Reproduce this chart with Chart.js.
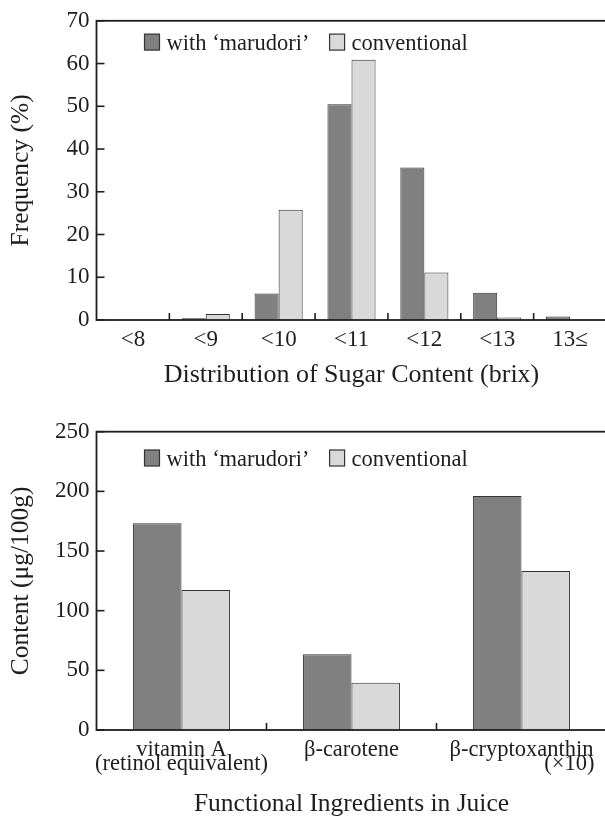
<!DOCTYPE html>
<html>
<head>
<meta charset="utf-8">
<script src="https://cdn.jsdelivr.net/npm/chart.js@4.4.0/dist/chart.umd.min.js"></script>
<style>
  html, body { margin: 0; padding: 0; background: #fff; overflow: hidden; }
  .box { position: absolute; left: 0; width: 612px; }
  #box1 { top: 0; height: 400px; }
  #box2 { top: 400px; height: 430px; }
</style>
</head>
<body>
<div class="box" id="box1"><canvas id="sugarChart" width="612" height="400"></canvas></div>
<div class="box" id="box2"><canvas id="juiceChart" width="612" height="430"></canvas></div>
<script>
// top chart: sugar content distribution (%)
const sugarLabels = ['<8', '<9', '<10', '<11', '<12', '<13', '13\u2264'];
const sugarMarudori = [0, 0.4, 6.2, 50.5, 35.7, 6.4, 0.8];
const sugarConventional = [0, 1.4, 25.8, 60.9, 11.1, 0.6, 0];
const sugarTicks = { min: 0, max: 70, step: 10 };

// bottom chart: functional ingredients (ug/100g)
const juiceLabels = [
    ['vitamin A', '(retinol equivalent)'],
    '\u03b2-carotene',
    ['\u03b2-cryptoxanthin', '                 (\u00d710)']
];
const juiceMarudori = [173.2, 63.4, 196.1];
const juiceConventional = [117.3, 39.7, 133.3];
const juiceTicks = { min: 0, max: 250, step: 50 };

const seriesNames = ['with \u2018marudori\u2019', 'conventional'];

const SERIF = "'Liberation Serif', 'Times New Roman', serif";
const INK = '#1e1e1e';
const DARK = '#808080';
const LIGHT = '#d9d9d9';

// plot frame, inward tick marks and the legend drawn inside the plot
const frameAndTicks = {
    id: 'frameAndTicks',
    afterDraw(chart, args, opts) {
        const { ctx, chartArea: a, scales: { x, y } } = chart;
        ctx.save();
        ctx.strokeStyle = INK;
        ctx.lineWidth = 1.6;
        y.ticks.forEach((t, i) => {
            const py = y.getPixelForTick(i);
            ctx.beginPath();
            ctx.moveTo(a.left, py);
            ctx.lineTo(a.left + 8, py);
            ctx.stroke();
        });
        for (let i = 1; i < x.ticks.length; i++) {
            const px = (x.getPixelForTick(i - 1) + x.getPixelForTick(i)) / 2;
            ctx.beginPath();
            ctx.moveTo(px, a.bottom);
            ctx.lineTo(px, a.bottom - 7);
            ctx.stroke();
        }
        ctx.lineWidth = 1.8;
        ctx.strokeRect(a.left, a.top, a.right - a.left, a.bottom - a.top);

        // legend
        ctx.font = '22.5px ' + SERIF;
        ctx.textBaseline = 'alphabetic';
        ctx.textAlign = 'left';
        let lx = a.left + 48;
        const ly = a.top + opts.legendTop;
        chart.data.datasets.forEach(ds => {
            ctx.fillStyle = ds.backgroundColor;
            ctx.fillRect(lx, ly, 15, 16);
            ctx.lineWidth = 1.2;
            ctx.strokeStyle = '#333';
            ctx.strokeRect(lx, ly, 15, 16);
            ctx.fillStyle = INK;
            ctx.fillText(ds.label, lx + 22, ly + 16);
            lx += 22 + ctx.measureText(ds.label).width + 20;
        });
        ctx.restore();
    }
};

function makeChart(id, labels, a, b, ticks, cfg) {
    const ctx = document.getElementById(id).getContext('2d');
    return new Chart(ctx, {
        type: 'bar',
        data: {
            labels: labels,
            datasets: [
                { label: seriesNames[0], data: a, backgroundColor: DARK, borderColor: '#333', borderWidth: 1,
                  categoryPercentage: cfg.catPct, barPercentage: 1 },
                { label: seriesNames[1], data: b, backgroundColor: LIGHT, borderColor: '#333', borderWidth: 1,
                  categoryPercentage: cfg.catPct, barPercentage: 1 }
            ]
        },
        options: {
            responsive: false,
            animation: false,
            layout: { padding: { top: cfg.top, right: 5.5, left: 0, bottom: 0 } },
            plugins: {
                legend: { display: false },
                tooltip: { enabled: false },
                frameAndTicks: { legendTop: cfg.legendTop }
            },
            scales: {
                x: {
                    grid: { display: false, drawTicks: false },
                    border: { display: false },
                    ticks: {
                        color: INK,
                        padding: cfg.xPad,
                        maxRotation: 0,
                        autoSkip: false,
                        font: { family: SERIF, size: cfg.xFont, lineHeight: cfg.xLine }
                    },
                    title: {
                        display: true,
                        text: cfg.xTitle,
                        color: INK,
                        padding: { top: 0, bottom: cfg.xTitlePad },
                        font: { family: SERIF, size: cfg.xTitleFont }
                    },
                    afterFit: s => { s.height = cfg.xHeight; }
                },
                y: {
                    min: ticks.min,
                    max: ticks.max,
                    grid: { display: false, drawTicks: false },
                    border: { display: false },
                    ticks: {
                        stepSize: ticks.step,
                        color: INK,
                        padding: 7,
                        font: { family: SERIF, size: 23 }
                    },
                    title: {
                        display: true,
                        text: cfg.yTitle,
                        color: INK,
                        padding: { top: 5.5, bottom: 0 },
                        font: { family: SERIF, size: 25.5 }
                    },
                    afterFit: s => { s.width = 96.5; }
                }
            }
        },
        plugins: [frameAndTicks]
    });
}

makeChart('sugarChart', sugarLabels, sugarMarudori, sugarConventional, sugarTicks, {
    catPct: 0.66, top: 20, legendTop: 13.3,
    xPad: 6.2, xFont: 23, xLine: 1.2, xTitlePad: 9.3, xTitleFont: 26, xHeight: 80,
    xTitle: 'Distribution of Sugar Content (brix)',
    yTitle: 'Frequency (%)'
});

makeChart('juiceChart', juiceLabels, juiceMarudori, juiceConventional, juiceTicks, {
    catPct: 0.57, top: 31.7, legendTop: 18.3,
    xPad: 12.8, xFont: 22.5, xLine: 0.62, xTitlePad: 10.7, xTitleFont: 25.5, xHeight: 100,
    xTitle: 'Functional Ingredients in Juice',
    yTitle: 'Content (\u03bcg/100g)'
});
</script>
</body>
</html>
